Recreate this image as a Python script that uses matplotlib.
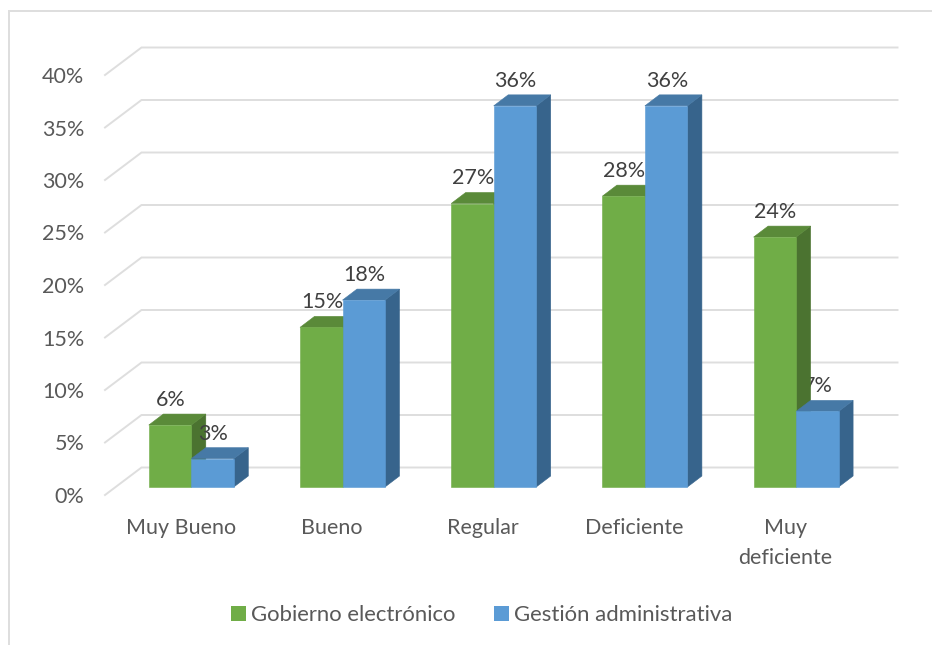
import matplotlib
matplotlib.use("Agg")
import matplotlib.pyplot as plt
from matplotlib.lines import Line2D
from matplotlib.patches import Patch, Polygon

plt.rcParams["font.family"] = ["Lato", "DejaVu Sans"]

categories = ["Muy Bueno", "Bueno", "Regular", "Deficiente", "Muy\ndeficiente"]
gobierno = [5.9, 15.2, 27.0, 27.7, 23.8]
gestion = [2.7, 17.8, 36.3, 36.3, 7.2]
series_names = ["Gobierno electrónico", "Gestión administrativa"]
y_ticks = [0, 5, 10, 15, 20, 25, 30, 35, 40]

W, H = 932, 645
LEFT, RIGHT, BASE, TOP = 105, 861, 495, 75
PX_X = (RIGHT - LEFT) / len(categories)   # pixels per category
PX_Y = (BASE - TOP) / 40                  # pixels per percentage point

WALL_DX, WALL_DY = 36.5 / PX_X, 27.5 / PX_Y
BAR_SHIFT_X, BAR_SHIFT_Y = 10.7 / PX_X, 8 / PX_Y
BAR_W = 42.5 / PX_X
DEPTH_X, DEPTH_Y = 14.5 / PX_X, 11 / PX_Y

GRID = "#DEDEDE"
TEXT = "#595959"
LABEL = "#404040"
FONT_SIZE = 15.5
GREEN = ("#70AD47", "#5A8A39", "#4B7330")
BLUE = ("#5B9BD5", "#4679A6", "#37648C")

fig = plt.figure(figsize=(W / 100, H / 100), dpi=100)
ax = fig.add_axes([LEFT / W, 1 - BASE / H, (RIGHT - LEFT) / W, (BASE - TOP) / H])
ax.set_xlim(0, len(categories))
ax.set_ylim(0, 40)
for spine in ax.spines.values():
    spine.set_visible(False)
ax.patch.set_visible(False)

# Chart frame: only the top and left edges remain visible
frame = dict(color="#DEDEDE", lw=1.4, transform=fig.transFigure)
fig.add_artist(Line2D([8.5 / W, 8.5 / W], [0, 1 - 10.5 / H], **frame))
fig.add_artist(Line2D([8.5 / W, 1], [1 - 10.5 / H, 1 - 10.5 / H], **frame))

# Back wall gridlines with their slanted returns on the side wall
n = len(categories)
for t in y_ticks:
    ax.plot([0, WALL_DX, n + WALL_DX], [t, t + WALL_DY, t + WALL_DY],
            color=GRID, lw=1.4, clip_on=False, zorder=1, solid_joinstyle="miter")


def draw_box(x, value, colors, z):
    """Draw one extruded column: side, top, then front face."""
    x0 = x + BAR_SHIFT_X
    x1 = x0 + BAR_W
    y0 = BAR_SHIFT_Y
    y1 = value + BAR_SHIFT_Y
    side = [(x1, y0), (x1 + DEPTH_X, y0 + DEPTH_Y), (x1 + DEPTH_X, y1 + DEPTH_Y), (x1, y1)]
    top = [(x0, y1), (x1, y1), (x1 + DEPTH_X, y1 + DEPTH_Y), (x0 + DEPTH_X, y1 + DEPTH_Y)]
    front = [(x0, y0), (x1, y0), (x1, y1), (x0, y1)]
    for pts, col in ((side, colors[2]), (top, colors[1]), (front, colors[0])):
        ax.add_patch(Polygon(pts, closed=True, facecolor=col, edgecolor=col,
                             lw=0.4, clip_on=False, zorder=z))
    ax.annotate(f"{value:.0f}%", ((x0 + x1) / 2, y1), xytext=(0.5, 18),
                textcoords="offset points", ha="center", va="center",
                fontsize=FONT_SIZE, color=LABEL, zorder=10, annotation_clip=False)


for i in range(n):
    centre = i + 0.5
    draw_box(centre - BAR_W, gobierno[i], GREEN, 3 + i * 2)
    draw_box(centre, gestion[i], BLUE, 4 + i * 2)

ax.set_yticks(y_ticks)
ax.set_yticklabels([f"{t}%" for t in y_ticks])
ax.set_xticks([i + 0.5 for i in range(n)])
ax.set_xticklabels(categories, linespacing=1.6)
ax.tick_params(axis="y", length=0, pad=15, labelsize=FONT_SIZE, labelcolor=TEXT)
ax.tick_params(axis="x", length=0, pad=16.5, labelsize=FONT_SIZE, labelcolor=TEXT)

handles = [Patch(facecolor=GREEN[0], label=series_names[0]),
           Patch(facecolor=BLUE[0], label=series_names[1])]
fig.legend(handles=handles, ncol=2, loc="center", bbox_to_anchor=(481.5 / W, 1 - 615 / H),
           frameon=False, fontsize=15.9, labelcolor=TEXT, handlelength=0.7,
           handleheight=0.7, handletextpad=0.2, columnspacing=1.75)

fig.savefig("out.png", dpi=100)
